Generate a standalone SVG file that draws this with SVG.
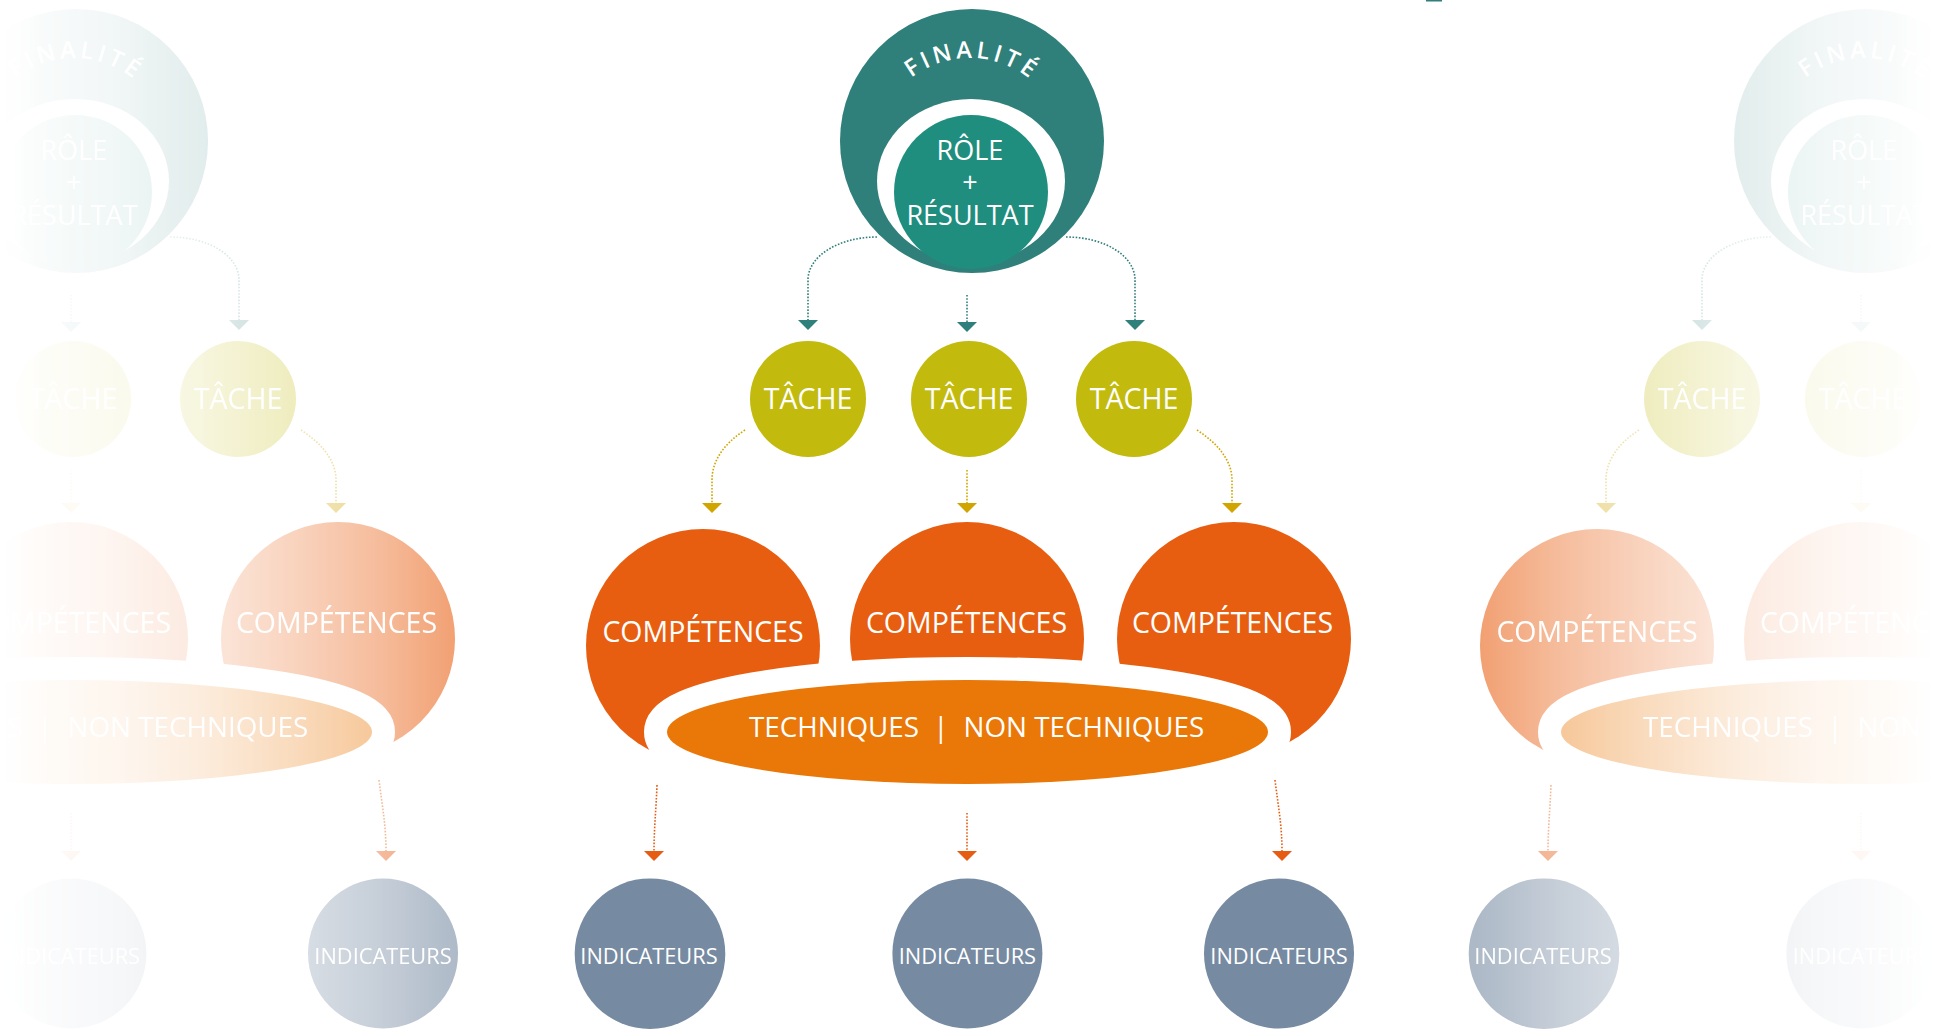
<svg xmlns="http://www.w3.org/2000/svg" xmlns:xlink="http://www.w3.org/1999/xlink" width="1937" height="1031" viewBox="0 0 1937 1031">
<style>
.lbl{font-family:"Open Sans","Noto Sans",sans-serif;fill:#fff;text-anchor:middle}
.fin{font-size:23.5px;font-weight:600;letter-spacing:3.8px}
.role{font-size:27px}
.tache{font-size:28.5px}
.comp{font-size:28.5px}
.tech{font-size:27.8px}
.ind{font-size:21.8px}
.dot{fill:none;stroke-width:1.6;stroke-dasharray:1.6 1.6}
.cT{stroke:#2f7f7a}
.cG{stroke:#d1a500}
.cO{stroke:#e65c12}
.tache-c{fill:#c2bb0e}
.comp-c{fill:#e85e10}
.ind-c{fill:#768aa2}
</style>
<defs>
<marker id="mT" viewBox="0 -10 10 20" refX="0" refY="0" markerWidth="10" markerHeight="20" markerUnits="userSpaceOnUse" orient="auto"><path d="M0,-10 L10,0 L0,10 Z" fill="#2f7f7a"/></marker>
<marker id="mG" viewBox="0 -10 10 20" refX="0" refY="0" markerWidth="10" markerHeight="20" markerUnits="userSpaceOnUse" orient="auto"><path d="M0,-10 L10,0 L0,10 Z" fill="#d1a500"/></marker>
<marker id="mO" viewBox="0 -10 10 20" refX="0" refY="0" markerWidth="10" markerHeight="20" markerUnits="userSpaceOnUse" orient="auto"><path d="M0,-10 L10,0 L0,10 Z" fill="#e65c12"/></marker>
<path id="arcFin" d="M 874 154 A 96 96 0 0 1 1066 154"/>
<linearGradient id="gL" gradientUnits="userSpaceOnUse" x1="0" y1="0" x2="470" y2="0">
<stop offset="0" stop-color="#fff" stop-opacity="0"/>
<stop offset="0.03" stop-color="#fff" stop-opacity="0.005"/>
<stop offset="0.08" stop-color="#fff" stop-opacity="0.025"/>
<stop offset="0.26" stop-color="#fff" stop-opacity="0.07"/>
<stop offset="0.43" stop-color="#fff" stop-opacity="0.14"/>
<stop offset="0.64" stop-color="#fff" stop-opacity="0.28"/>
<stop offset="0.81" stop-color="#fff" stop-opacity="0.42"/>
<stop offset="0.98" stop-color="#fff" stop-opacity="0.6"/>
<stop offset="1" stop-color="#fff" stop-opacity="0.6"/>
</linearGradient>
<linearGradient id="gR" gradientUnits="userSpaceOnUse" x1="1937" y1="0" x2="1467" y2="0">
<stop offset="0" stop-color="#fff" stop-opacity="0"/>
<stop offset="0.03" stop-color="#fff" stop-opacity="0.005"/>
<stop offset="0.08" stop-color="#fff" stop-opacity="0.025"/>
<stop offset="0.26" stop-color="#fff" stop-opacity="0.07"/>
<stop offset="0.43" stop-color="#fff" stop-opacity="0.14"/>
<stop offset="0.64" stop-color="#fff" stop-opacity="0.28"/>
<stop offset="0.81" stop-color="#fff" stop-opacity="0.42"/>
<stop offset="0.98" stop-color="#fff" stop-opacity="0.6"/>
<stop offset="1" stop-color="#fff" stop-opacity="0.6"/>
</linearGradient>
<mask id="fadeL" maskUnits="userSpaceOnUse" x="0" y="0" width="1937" height="1031"><rect x="0" y="0" width="1937" height="1031" fill="url(#gL)"/></mask>
<mask id="fadeR" maskUnits="userSpaceOnUse" x="0" y="0" width="1937" height="1031"><rect x="0" y="0" width="1937" height="1031" fill="url(#gR)"/></mask>
</defs>
<rect x="0" y="0" width="1937" height="1031" fill="#fff"/>

<g id="diagram">
  <g id="finalite">
    <circle cx="972" cy="141" r="132" fill="#2f7f7a"/>
    <ellipse cx="971" cy="181" rx="94" ry="82" fill="#fff"/>
    <circle cx="971" cy="192" r="77" fill="#1f8e7e"/>
    <text class="lbl fin"><textPath href="#arcFin" startOffset="152.7" text-anchor="middle">FINALITÉ</textPath></text>
    <text class="lbl role"><tspan x="970" y="159.5">RÔLE</tspan><tspan x="970" y="191.5">+</tspan><tspan x="970" y="224.5">RÉSULTAT</tspan></text>
  </g>
  <g id="tache-1">
    <circle class="tache-c" cx="808" cy="399" r="58"/>
    <text class="lbl tache" x="808" y="408.5">TÂCHE</text>
  </g>
  <g id="tache-2">
    <circle class="tache-c" cx="969" cy="399" r="58"/>
    <text class="lbl tache" x="969" y="408.5">TÂCHE</text>
  </g>
  <g id="tache-3">
    <circle class="tache-c" cx="1134" cy="399" r="58"/>
    <text class="lbl tache" x="1134" y="408.5">TÂCHE</text>
  </g>
  <g id="competences-1">
    <circle class="comp-c" cx="703" cy="646" r="117"/>
    <text class="lbl comp" x="703" y="641.7">COMPÉTENCES</text>
  </g>
  <g id="competences-2">
    <circle class="comp-c" cx="967" cy="639" r="117"/>
    <text class="lbl comp" x="966.5" y="633.3">COMPÉTENCES</text>
  </g>
  <g id="competences-3">
    <circle class="comp-c" cx="1234" cy="639" r="117"/>
    <text class="lbl comp" x="1232.5" y="633.3">COMPÉTENCES</text>
  </g>
  <g id="techniques">
    <ellipse cx="967.5" cy="732" rx="300.5" ry="52" fill="#ea7808" stroke="#fff" stroke-width="46" paint-order="stroke"/>
    <text class="lbl tech" y="737.3"><tspan x="919" text-anchor="end">TECHNIQUES</tspan><tspan x="941">|</tspan><tspan x="963.5" text-anchor="start">NON TECHNIQUES</tspan></text>
  </g>
  <g id="indicateurs-1">
    <circle class="ind-c" cx="650" cy="953.7" r="75.3"/>
    <text class="lbl ind" x="649" y="964">INDICATEURS</text>
  </g>
  <g id="indicateurs-2">
    <circle class="ind-c" cx="967.4" cy="953.5" r="75"/>
    <text class="lbl ind" x="967.4" y="964">INDICATEURS</text>
  </g>
  <g id="indicateurs-3">
    <circle class="ind-c" cx="1279" cy="953.5" r="75"/>
    <text class="lbl ind" x="1279" y="964">INDICATEURS</text>
  </g>
  <g id="connectors">
    <path class="dot cT" marker-end="url(#mT)" d="M 877 237 C 839 237, 808 256, 808 280 L 808 320"/>
    <path class="dot cT" marker-end="url(#mT)" d="M 967 295 L 967 322"/>
    <path class="dot cT" marker-end="url(#mT)" d="M 1066 237 C 1105 237, 1135 256, 1135 280 L 1135 320"/>
    <path class="dot cG" marker-end="url(#mG)" d="M 745 430 C 725 443, 712 460, 712 480 L 712 503"/>
    <path class="dot cG" marker-end="url(#mG)" d="M 967 470 L 967 503"/>
    <path class="dot cG" marker-end="url(#mG)" d="M 1197 430 C 1217 443, 1232 460, 1232 480 L 1232 503"/>
    <path class="dot cO" marker-end="url(#mO)" d="M 657 785 C 656 810, 654 830, 654 851"/>
    <path class="dot cO" marker-end="url(#mO)" d="M 967 813 L 967 851"/>
    <path class="dot cO" marker-end="url(#mO)" d="M 1275 780 C 1278 805, 1282 825, 1282 851"/>
  </g>
</g>

<g id="ghost-left" mask="url(#fadeL)"><use href="#diagram" xlink:href="#diagram" transform="translate(-896 0)"/></g>
<g id="ghost-right" mask="url(#fadeR)"><use href="#diagram" xlink:href="#diagram" transform="translate(894 0)"/></g>
<rect x="1426" y="0" width="16" height="1.5" fill="#2f7f7a"/>
</svg>
